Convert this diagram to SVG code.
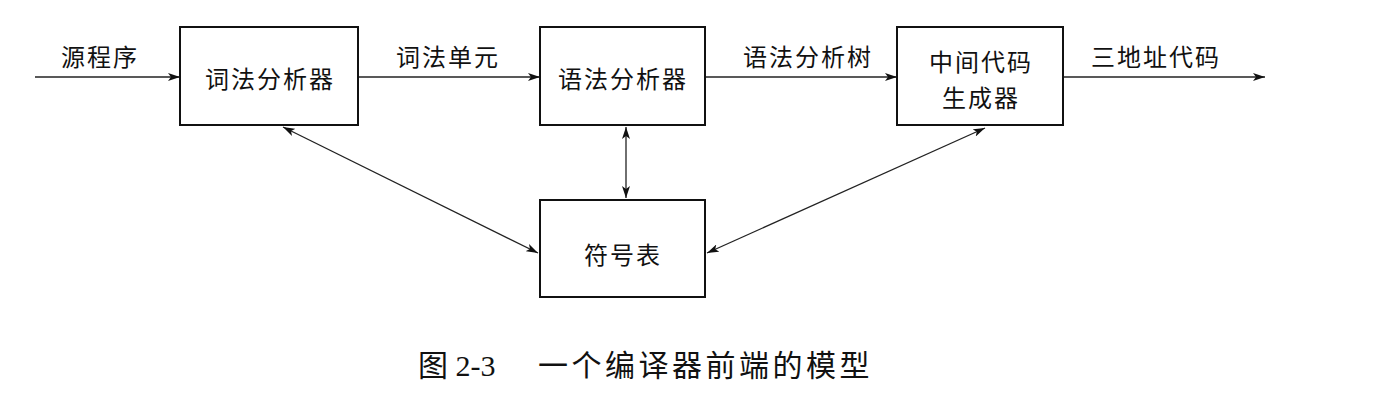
<svg xmlns="http://www.w3.org/2000/svg" width="1395" height="408" viewBox="0 0 1395 408">
<style>
.box{fill:#fff;stroke:#111;stroke-width:2}
.t{font-family:"Noto Sans CJK SC","Noto Sans CJK JP",sans-serif;font-size:24px;fill:#111;text-anchor:middle;dominant-baseline:central;letter-spacing:2px}
.c{stroke:#222;stroke-width:1.3;fill:none}
.cap{font-family:"Liberation Serif","Noto Sans CJK SC",serif;font-size:30px;fill:#111;dominant-baseline:central}
</style>
<defs>
<marker id="ah" viewBox="0 0 12 8" refX="12" refY="4" markerWidth="12" markerHeight="8" markerUnits="userSpaceOnUse" orient="auto-start-reverse">
<path d="M0,0 L12,4 L0,8 L3,4 Z" fill="#111"/>
</marker>
</defs>
<rect width="1395" height="408" fill="#fff"/>
<g id="connectors">
<line class="c" x1="35" y1="77" x2="180" y2="77" marker-end="url(#ah)"/>
<line class="c" x1="358" y1="77" x2="540" y2="77" marker-end="url(#ah)"/>
<line class="c" x1="705" y1="77" x2="897" y2="77" marker-end="url(#ah)"/>
<line class="c" x1="1063" y1="77" x2="1265" y2="77" marker-end="url(#ah)"/>
<line class="c" x1="283" y1="127" x2="538" y2="253" marker-start="url(#ah)" marker-end="url(#ah)"/>
<line class="c" x1="626" y1="127" x2="626" y2="198" marker-start="url(#ah)" marker-end="url(#ah)"/>
<line class="c" x1="985" y1="128" x2="707" y2="253" marker-start="url(#ah)" marker-end="url(#ah)"/>
<text class="t" x="100" y="55">源程序</text>
<text class="t" x="448" y="55">词法单元</text>
<text class="t" x="808" y="55">语法分析树</text>
<text class="t" x="1156" y="55">三地址代码</text>
</g>
<g id="lexer">
<rect class="box" x="180" y="27" width="178" height="98"/>
<text class="t" x="270" y="77">词法分析器</text>
</g>
<g id="parser">
<rect class="box" x="540" y="27" width="165" height="98"/>
<text class="t" x="623" y="77">语法分析器</text>
</g>
<g id="icg">
<rect class="box" x="897" y="27" width="166" height="98"/>
<text class="t" x="981" y="60">中间代码</text>
<text class="t" x="981" y="96">生成器</text>
</g>
<g id="symtab">
<rect class="box" x="540" y="200" width="165" height="97"/>
<text class="t" x="623" y="253">符号表</text>
</g>
<g id="caption">
<text class="cap" x="418" y="365">图 2-3</text>
<text class="cap" x="538" y="365" letter-spacing="3.5">一个编译器前端的模型</text>
</g>
</svg>
